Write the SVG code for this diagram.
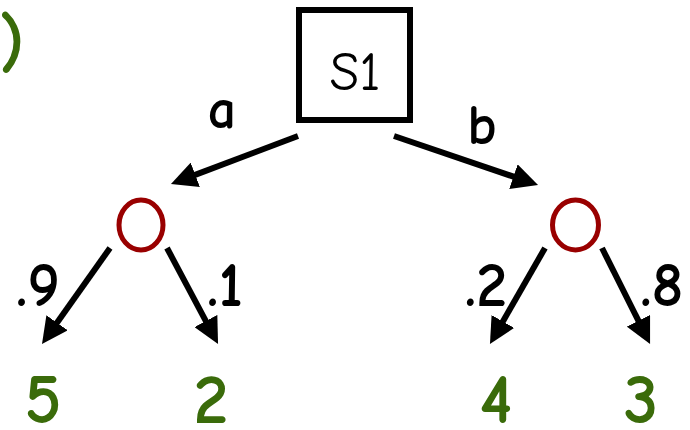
<svg xmlns="http://www.w3.org/2000/svg" width="690" height="430" viewBox="0 0 690 430">
<style>
.t{font-family:"Comic Sans MS","Comic Neue","DejaVu Sans",sans-serif;text-anchor:middle}
.lbl{font-size:56px;fill:#000;font-weight:bold}
.num{font-size:62px;fill:#000;font-weight:bold}
.val{font-size:70px;fill:#3a6b0a;font-weight:bold}
.edge{stroke:#000;stroke-width:6;fill:none}
.chance{fill:none;stroke:#990000;stroke-width:5}
</style>
<defs>
<marker id="ah" viewBox="0 0 26 26" refX="8" refY="13" markerWidth="26" markerHeight="26" markerUnits="userSpaceOnUse" orient="auto">
<path d="M0,0 L26,13 L0,26 z" fill="#000"/>
</marker>
</defs>
<text class="t val" x="12" y="66">)</text>
<g id="edges">
<line class="edge" x1="298" y1="136" x2="187.8" y2="177.6" marker-end="url(#ah)"/>
<line class="edge" x1="394" y1="136" x2="521" y2="179.2" marker-end="url(#ah)"/>
<line class="edge" x1="110" y1="248" x2="52.4" y2="329.3" marker-end="url(#ah)"/>
<line class="edge" x1="167" y1="248" x2="209.6" y2="328.1" marker-end="url(#ah)"/>
<line class="edge" x1="545" y1="248" x2="498.9" y2="328.4" marker-end="url(#ah)"/>
<line class="edge" x1="602" y1="248" x2="642" y2="327.9" marker-end="url(#ah)"/>
<text class="t lbl" x="222" y="128">a</text>
<text class="t lbl" x="482" y="144">b</text>
<text class="t num" x="38" y="306">.9</text>
<text class="t num" x="225" y="306">.1</text>
<text class="t num" x="486" y="306">.2</text>
<text class="t num" x="662" y="306">.8</text>
</g>
<g id="s1">
<rect x="299" y="10" width="111" height="110" fill="none" stroke="#000" stroke-width="6"/>
<text class="t" x="355" y="90" font-size="54" fill="#000">S1</text>
</g>
<g id="chance1"><ellipse class="chance" cx="141" cy="225" rx="22" ry="25"/></g>
<g id="chance2"><ellipse class="chance" cx="575.5" cy="225" rx="23" ry="25"/></g>
<g id="leaf5"><text class="t val" x="43" y="423">5</text></g>
<g id="leaf2"><text class="t val" x="211" y="423">2</text></g>
<g id="leaf4"><text class="t val" x="496" y="423">4</text></g>
<g id="leaf3"><text class="t val" x="641" y="423">3</text></g>
</svg>
